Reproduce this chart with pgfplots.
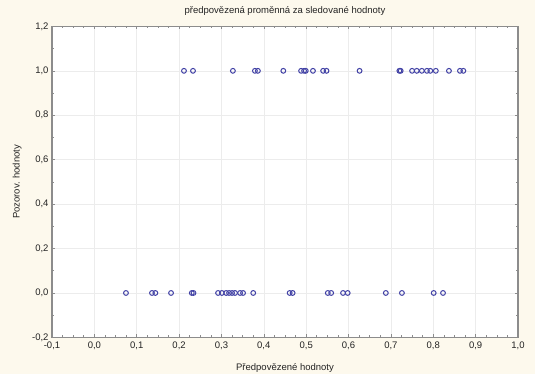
\documentclass[border=0pt]{standalone}
\usepackage{pgfplots}
\pgfplotsset{compat=1.18}
\usepackage{fontspec}
\setmainfont{Liberation Sans}
\usetikzlibrary{backgrounds}
\definecolor{cream}{RGB}{253,249,237}
\definecolor{mk}{RGB}{65,65,165}
\definecolor{frm}{RGB}{140,140,140}
\definecolor{grd}{RGB}{236,236,236}
\definecolor{txt}{RGB}{35,35,35}
\begin{document}
\begin{tikzpicture}
\path[use as bounding box] (-52bp,-36.6bp) rectangle (483bp,337.4bp);
\begin{pgfonlayer}{background}
\fill[cream] (-52bp,-36.6bp) rectangle (483bp,337.4bp);
\end{pgfonlayer}
\begin{axis}[
  at={(0,0)}, anchor=south west,
  scale only axis, width=466bp, height=311bp,
  xmin=-0.1, xmax=1.0, ymin=-0.2, ymax=1.2,
  xtick={-0.1,0,0.1,0.2,0.3,0.4,0.5,0.6,0.7,0.8,0.9,1.0},
  ytick={-0.2,0,0.2,0.4,0.6,0.8,1.0,1.2},
  minor x tick num=3, minor y tick num=1,
  tick align=inside, major tick length=3bp, minor tick length=2bp,
  tick style={frm, line width=0.6bp},
  axis line style={frm, line width=1.3bp},
  axis background/.style={fill=white},
  grid=major, major grid style={grd, line width=0.5bp},
  every tick label/.append style={font=\fontsize{9.5bp}{11bp}\selectfont, text=txt},
  xticklabel style={yshift=-1bp},
  /pgf/number format/.cd, use comma, fixed, fixed zerofill, precision=1, assume math mode=true,
  /pgfplots/.cd,
  title={předpovězená proměnná za sledované hodnoty},
  title style={at={(axis description cs:0.5,1.048)}, anchor=center, yshift=-6pt, font=\fontsize{9.5bp}{11bp}\selectfont, text=txt},
  xlabel={Předpovězené hodnoty},
  xlabel style={at={(axis description cs:0.5,-0.097)}, anchor=center, font=\fontsize{9.5bp}{11bp}\selectfont, text=txt},
  ylabel={Pozorov. hodnoty},
  ylabel style={at={(axis description cs:-0.075,0.5)}, anchor=center, font=\fontsize{9.5bp}{11bp}\selectfont, text=txt},
]
\addplot[only marks, mark=o, mark size=2.4bp, mark options={draw=mk, line width=1bp}] table {
x y
0.2115 1
0.2328 1
0.327 1
0.379 1
0.386 1
0.446 1
0.488 1
0.495 1
0.499 1
0.516 1
0.540 1
0.548 1
0.626 1
0.720 1
0.723 1
0.750 1
0.761 1
0.773 1
0.785 1
0.793 1
0.806 1
0.837 1
0.863 1
0.871 1
0.0746 0
0.136 0
0.144 0
0.181 0
0.230 0
0.234 0
0.292 0
0.301 0
0.311 0
0.318 0
0.325 0
0.332 0
0.344 0
0.351 0
0.375 0
0.461 0
0.468 0
0.551 0
0.559 0
0.587 0
0.598 0
0.688 0
0.726 0
0.801 0
0.823 0
};
\end{axis}
\end{tikzpicture}
\end{document}
